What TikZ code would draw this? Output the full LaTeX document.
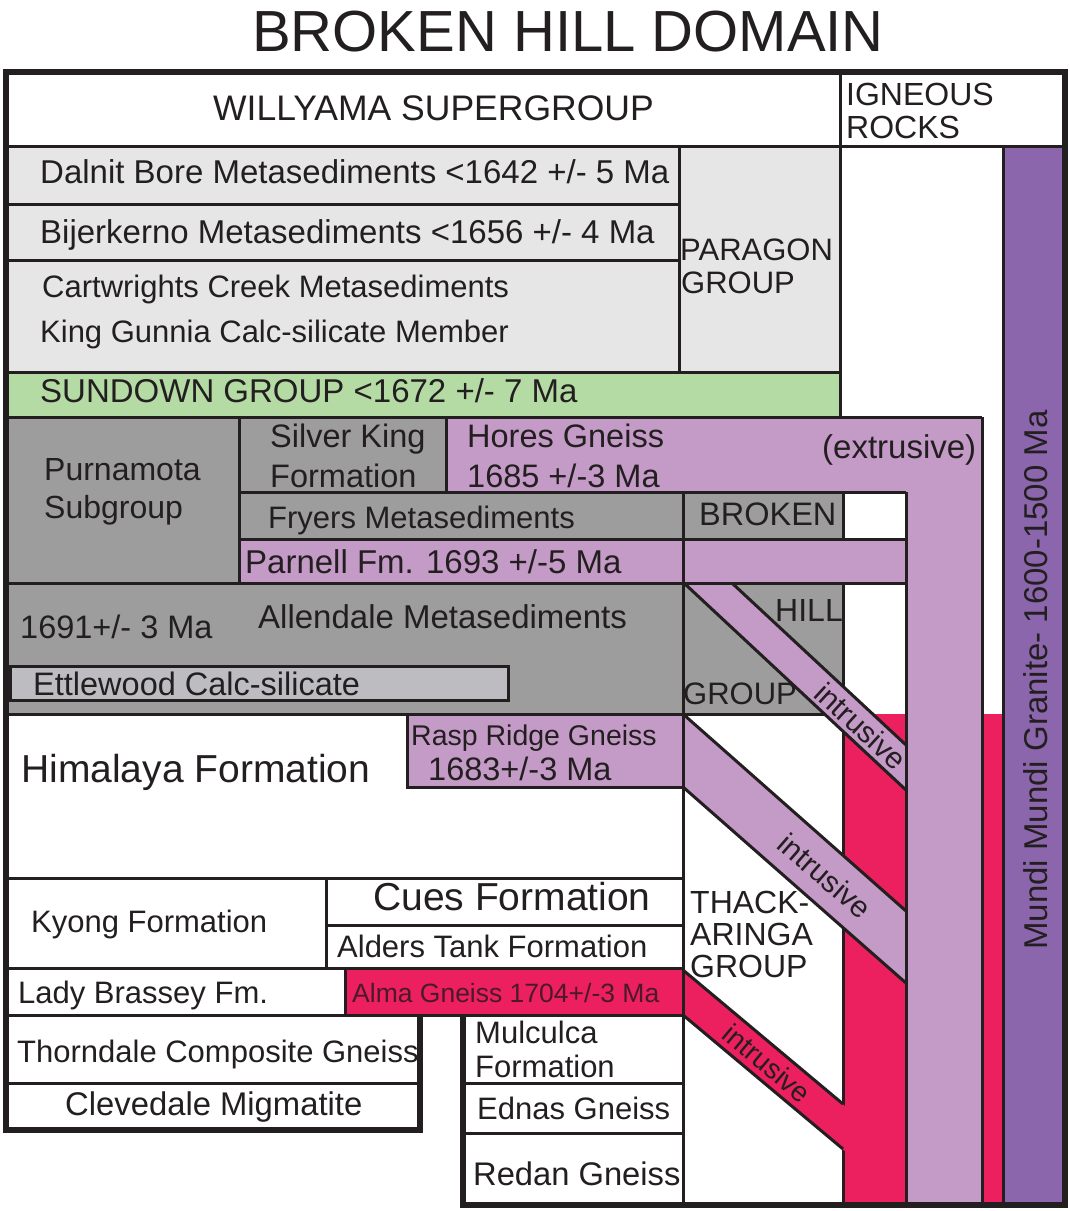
\documentclass[tikz,border=0pt]{standalone}
\usepackage{fontspec}
\setmainfont{Liberation Sans}
\definecolor{ink}{HTML}{231F20}
\definecolor{lgray}{HTML}{E6E6E6}
\definecolor{sgreen}{HTML}{B4DBA3}
\definecolor{dgray}{HTML}{9D9D9D}
\definecolor{ettle}{HTML}{BDBDC1}
\definecolor{lpurp}{HTML}{C49AC6}
\definecolor{dpurp}{HTML}{8C66AD}
\definecolor{gred}{HTML}{EC1F5F}
\definecolor{almatxt}{HTML}{4A1A2A}
\newcommand{\fsz}[1]{\fontsize{#1}{#1}\selectfont}
\begin{document}
\begin{tikzpicture}[x=1pt,y=-1pt,
  ln/.style={line width=3pt, draw=ink},
  frameline/.style={line width=5.5pt, draw=ink, line join=miter},
  lbl/.style={anchor=base west, inner sep=0pt, text=ink},
  rlbl/.style={anchor=center, inner sep=0pt, text=ink}]
\useasboundingbox (0,0) rectangle (1070,1211);
\fill[white] (0,0) rectangle (1070,1211);

% ---------- fills
\fill[lgray] (6,146) rectangle (840,372);
\fill[sgreen] (6,372) rectangle (840,417);
\fill[dpurp] (1003,146) rectangle (1065,1205);
\fill[dgray] (6,417) rectangle (446,583);
\fill[dgray] (239,492) rectangle (843,539);
\fill[dgray] (6,583) rectangle (843,714);
\fill[lpurp] (446,417) -- (982,417) -- (982,1205) -- (906,1205) -- (906,492) -- (446,492) -- cycle;
\fill[lpurp] (239,539) rectangle (906,583);
\fill[lpurp] (407,714) rectangle (683,787);
\fill[ettle] (10,666) rectangle (508,700);
\fill[gred] (843,714) rectangle (906,1205);
\fill[gred] (982,714) rectangle (1003,1205);
\fill[gred] (345,968) rectangle (683,1015);

% ---------- box lines
\draw[ln] (6,146) -- (1065,146);
\draw[ln] (840,72) -- (840,417);
\draw[ln] (6,204) -- (679,204);
\draw[ln] (6,260) -- (679,260);
\draw[ln] (679,146) -- (679,372);
\draw[ln] (6,372) -- (840,372);
\draw[ln] (6,417) -- (982,417);
\draw[ln] (1003,146) -- (1003,1205);
\draw[ln] (982,417) -- (982,1205);
\draw[ln] (239,417) -- (239,583);
\draw[ln] (446,417) -- (446,492);
\draw[ln] (239,492) -- (906,492);
\draw[ln] (239,539) -- (906,539);
\draw[ln] (843,492) -- (843,539);
\draw[ln] (843,583) -- (843,1205);
\draw[ln] (6,714) -- (843,714);
\draw[ln] (10,666) rectangle (508,700);
\draw[ln] (407,714) rectangle (683,787);
\draw[ln] (6,878) -- (683,878);
\draw[ln] (326,878) -- (326,968);
\draw[ln] (326,925) -- (683,925);
\draw[ln] (6,968) -- (683,968);
\draw[ln] (345,968) -- (345,1015);
\draw[ln] (6,1015) -- (683,1015);
\draw[ln] (6,1083) -- (420,1083);
\draw[ln] (463,1083) -- (683,1083);
\draw[ln] (463,1133) -- (683,1133);

% ---------- intrusive bands
\fill[lpurp] (685,584) -- (733,584) -- (906,745) -- (906,790) -- cycle;
\draw[ln] (685,584) -- (906,790);
\draw[ln] (733,584) -- (906,745);
\fill[lpurp] (683,714) -- (906,911) -- (906,983) -- (683,787) -- cycle;
\draw[ln] (683,714) -- (906,911);
\draw[ln] (683,787) -- (906,983);
\fill[gred] (683,970) -- (846,1107) -- (846,1152) -- (683,1015) -- cycle;
\draw[ln] (683,970) -- (843,1104);
\draw[ln] (683,1015) -- (843,1149);

% ---------- lines on top
\draw[ln] (906,492) -- (906,1205);
\draw[ln] (6,583) -- (906,583);
\draw[ln] (683,492) -- (683,1205);

% ---------- outer frame
\draw[frameline] (420,1015) -- (420,1130) -- (6,1130) -- (6,72) -- (1065,72) -- (1065,1205) -- (463,1205) -- (463,1015);

% ---------- texts
\node[lbl, anchor=base, font=\fsz{58}] (title) at (568,51) {BROKEN HILL DOMAIN};
\node[lbl, font=\fsz{35.5}] (willyama) at (213,120) {WILLYAMA SUPERGROUP};
\node[lbl, font=\fsz{32}] (igneous) at (846,105) {IGNEOUS};
\node[lbl, font=\fsz{32}] (rocks) at (846,138) {ROCKS};
\node[lbl, font=\fsz{33}] (dalnit) at (40,183) {Dalnit Bore Metasediments <1642 +/- 5 Ma};
\node[lbl, font=\fsz{33}] (bijer) at (40,243) {Bijerkerno Metasediments <1656 +/- 4 Ma};
\node[lbl, font=\fsz{31}] (cart) at (42,297) {Cartwrights Creek Metasediments};
\node[lbl, font=\fsz{31}] (kinggun) at (40,342) {King Gunnia Calc-silicate Member};
\node[lbl, font=\fsz{31}] (paragon) at (680,260) {PARAGON};
\node[lbl, font=\fsz{31}] (paragon2) at (681,293) {GROUP};
\node[lbl, font=\fsz{33}] (sundown) at (40,402) {SUNDOWN GROUP <1672 +/- 7 Ma};
\node[lbl, font=\fsz{32}] (purna) at (44,480) {Purnamota};
\node[lbl, font=\fsz{32}] (purna2) at (44,518) {Subgroup};
\node[lbl, font=\fsz{32.5}] (silver) at (270,447) {Silver King};
\node[lbl, font=\fsz{32.5}] (silver2) at (270,487) {Formation};
\node[lbl, font=\fsz{32.5}] (hores) at (467,447) {Hores Gneiss};
\node[lbl, font=\fsz{32.5}] (hores2) at (467,487) {1685 +/-3 Ma};
\node[lbl, font=\fsz{33}] (extr) at (822,458) {(extrusive)};
\node[lbl, font=\fsz{31}] (fryers) at (268,528) {Fryers Metasediments};
\node[lbl, font=\fsz{32.5}] (broken) at (699,525) {BROKEN};
\node[lbl, font=\fsz{33}] (parnell) at (245,573) {Parnell Fm. 1693 +/-5 Ma};
\node[lbl, font=\fsz{32.5}] (allage) at (20,638) {1691+/- 3 Ma};
\node[lbl, font=\fsz{33}] (allendale) at (258,628) {Allendale Metasediments};
\node[lbl, anchor=base east, font=\fsz{32}] (hill) at (843,621) {HILL};
\node[lbl, font=\fsz{31}] (bhgroup) at (683,704) {GROUP};
\node[lbl, font=\fsz{32.5}] (ettlewood) at (33,695) {Ettlewood Calc-silicate};
\node[lbl, font=\fsz{39}] (himalaya) at (21,782) {Himalaya Formation};
\node[lbl, font=\fsz{28.5}] (rasp) at (411,745) {Rasp Ridge Gneiss};
\node[lbl, font=\fsz{32.5}] (rasp2) at (428,780) {1683+/-3 Ma};
\node[lbl, font=\fsz{32}] (thack) at (690,913) {THACK-};
\node[lbl, font=\fsz{32}] (thack2) at (690,945) {ARINGA};
\node[lbl, font=\fsz{32}] (thack3) at (690,977) {GROUP};
\node[lbl, font=\fsz{39}] (cues) at (373,910) {Cues Formation};
\node[lbl, font=\fsz{31}] (kyong) at (31,932) {Kyong Formation};
\node[lbl, font=\fsz{31}] (alders) at (337,957) {Alders Tank Formation};
\node[lbl, font=\fsz{31}] (lady) at (18,1003) {Lady Brassey Fm.};
\node[lbl, text=almatxt, font=\fsz{26.5}] (alma) at (352,1002) {Alma Gneiss 1704+/-3 Ma};
\node[lbl, font=\fsz{31}] (thorn) at (17,1062) {Thorndale Composite Gneiss};
\node[lbl, font=\fsz{32.8}] (cleve) at (65,1115) {Clevedale Migmatite};
\node[lbl, font=\fsz{31}] (mulc) at (475,1043) {Mulculca};
\node[lbl, font=\fsz{31}] (mulc2) at (475,1077) {Formation};
\node[lbl, font=\fsz{31}] (ednas) at (477,1119) {Ednas Gneiss};
\node[lbl, font=\fsz{32.7}] (redan) at (473,1185) {Redan Gneiss};
\node[rlbl, rotate=-42.5, font=\fsz{30}] (intr1) at (861,726) {intrusive};
\node[rlbl, rotate=-41, font=\fsz{30}] (intr2) at (825,876) {intrusive};
\node[rlbl, rotate=-40, font=\fsz{28}] (intr3) at (767,1063) {intrusive};
\node[rlbl, rotate=90, font=\fsz{33}] (mundi) at (1036,680) {Mundi Mundi Granite- 1600-1500 Ma};
\end{tikzpicture}
\end{document}
